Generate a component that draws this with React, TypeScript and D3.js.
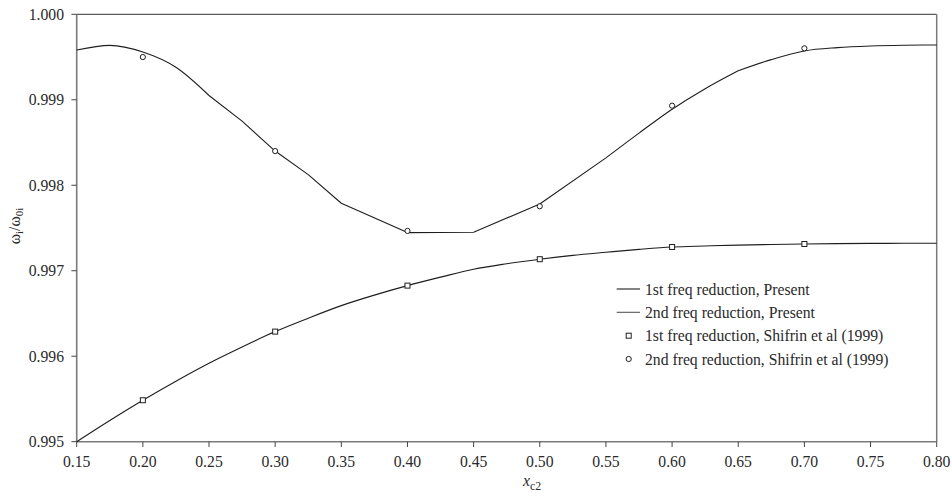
import React from "react";
import * as d3 from "d3";

// Frequency-ratio curves computed by the present model (sampled along x_c2)
const xFirstPresent = [
  0.15, 0.175, 0.2, 0.225, 0.25, 0.275, 0.3, 0.325, 0.35, 0.375, 0.4, 0.425, 0.45,
  0.475, 0.5, 0.525, 0.55, 0.575, 0.6, 0.625, 0.65, 0.675, 0.7, 0.725, 0.75, 0.775, 0.8,
];
const firstPresent = [
  0.995, 0.995248, 0.995485, 0.995708, 0.995918, 0.996108, 0.996288, 0.996445, 0.996592,
  0.996715, 0.996826, 0.996925, 0.997018, 0.997082, 0.997135, 0.99718, 0.997216, 0.99725,
  0.997278, 0.99729, 0.9973, 0.997307, 0.997313, 0.997317, 0.99732, 0.997321, 0.997322,
];
const xSecondPresent = [
  0.15, 0.175, 0.2, 0.225, 0.25, 0.275, 0.3, 0.325, 0.35, 0.4, 0.45, 0.5, 0.55, 0.575,
  0.6, 0.625, 0.65, 0.675, 0.7, 0.725, 0.75, 0.775, 0.8,
];
const secondPresent = [
  0.999582, 0.999637, 0.999559, 0.99938, 0.99905, 0.99875, 0.9984, 0.998125, 0.99779,
  0.997446, 0.99745, 0.997781, 0.99832, 0.99861, 0.998889, 0.99913, 0.99934, 0.99947,
  0.999571, 0.99961, 0.999629, 0.999638, 0.999641,
];
// Pieces of the 2nd-frequency curve: [first x, last x, smoothed?]
const secondPieces: [number, number, boolean][] = [
  [0.15, 0.25, true],
  [0.25, 0.55, false],
  [0.55, 0.65, true],
  [0.65, 0.8, true],
];

// Reference values, Shifrin et al (1999)
const xShifrin = [0.2, 0.3, 0.4, 0.5, 0.6, 0.7];
const firstShifrin = [0.995485, 0.996288, 0.996826, 0.997135, 0.997278, 0.997313];
const secondShifrin = [0.9995, 0.9984, 0.997466, 0.997754, 0.998931, 0.999602];

const xTicks = [0.15, 0.2, 0.25, 0.3, 0.35, 0.4, 0.45, 0.5, 0.55, 0.6, 0.65, 0.7, 0.75, 0.8];
const yTicks = [0.995, 0.996, 0.997, 0.998, 0.999, 1.0];

const legendLabels = [
  "1st freq reduction, Present",
  "2nd freq reduction, Present",
  "1st freq reduction, Shifrin et al (1999)",
  "2nd freq reduction, Shifrin et al (1999)",
];

const W = 952;
const H = 499;
const left = 76.7;
const right = 936.7;
const top = 14.3;
const bottom = 441.7;
const FONT = "'Liberation Serif', 'Times New Roman', serif";
const FS = 15.7;
const INK = "#1e1e1e";
const AXIS = "#7a7a7a";

export default function App() {
  const x = d3.scaleLinear().domain([0.15, 0.8]).range([left, right]);
  const y = d3.scaleLinear().domain([0.995, 1.0]).range([bottom, top]);

  const smooth = d3
    .line<[number, number]>()
    .x((d) => x(d[0]))
    .y((d) => y(d[1]))
    .curve(d3.curveMonotoneX);
  const straight = d3
    .line<[number, number]>()
    .x((d) => x(d[0]))
    .y((d) => y(d[1]));

  const path1 =
    smooth(xFirstPresent.map((v, i) => [v, firstPresent[i]]) as [number, number][]) || "";

  const secondPts = xSecondPresent.map((v, i) => [v, secondPresent[i]] as [number, number]);
  const path2 = secondPieces
    .map(([a, b, isSmooth]) => {
      const pts = secondPts.filter((p) => p[0] >= a - 1e-9 && p[0] <= b + 1e-9);
      return (isSmooth ? smooth(pts) : straight(pts)) || "";
    })
    .join(" ");

  const legX = 616.7;
  const legRows = [289, 312.3, 335.7, 359];

  const square = (cx: number, cy: number, key: string) => (
    <rect key={key} x={cx - 2.5} y={cy - 2.5} width={5} height={5} fill="white" stroke={INK} strokeWidth={1} />
  );
  const circle = (cx: number, cy: number, key: string) => (
    <circle key={key} cx={cx} cy={cy} r={2.6} fill="white" stroke={INK} strokeWidth={1} />
  );

  return (
    <svg
      width={W}
      height={H}
      style={{ position: "absolute", left: 0, top: 0, background: "white" }}
      fontFamily={FONT}
    >
      <rect x={0} y={0} width={W} height={H} fill="white" />

      {/* frame */}
      <line x1={left} x2={right} y1={top} y2={top} stroke="#333" strokeWidth={1} />
      <line x1={right} x2={right} y1={top} y2={bottom} stroke={AXIS} strokeWidth={1.5} />
      <line x1={left} x2={left} y1={top} y2={bottom} stroke={AXIS} strokeWidth={1.6} />
      <line x1={left} x2={right} y1={bottom} y2={bottom} stroke={AXIS} strokeWidth={1.6} />

      {/* y axis */}
      {yTicks.map((t) => (
        <g key={"y" + t}>
          <line x1={left - 5.3} x2={left} y1={y(t)} y2={y(t)} stroke="#444" strokeWidth={1} />
          <text x={64} y={y(t)} dy="0.35em" textAnchor="end" fontSize={FS} fill="#2a2a2a">
            {d3.format(".3f")(t)}
          </text>
        </g>
      ))}

      {/* x axis */}
      {xTicks.map((t) => (
        <g key={"x" + t}>
          <line x1={x(t)} x2={x(t)} y1={bottom} y2={bottom + 5.3} stroke="#444" strokeWidth={1} />
          <text x={x(t)} y={466.5} textAnchor="middle" fontSize={FS} fill="#2a2a2a">
            {d3.format(".2f")(t)}
          </text>
        </g>
      ))}

      {/* axis titles */}
      <text x={523} y={486} fontSize={FS} fill="#2a2a2a">
        <tspan fontStyle="italic">x</tspan>
        <tspan fontSize={FS * 0.75} dy={4}>c2</tspan>
      </text>
      <text
        transform={`translate(20,${226}) rotate(-90)`}
        textAnchor="middle"
        fontSize={FS}
        fill="#2a2a2a"
      >
        <tspan>ω</tspan>
        <tspan fontSize={FS * 0.7} dy={3}>i</tspan>
        <tspan dy={-3}>/ω</tspan>
        <tspan fontSize={FS * 0.7} dy={3}>0i</tspan>
      </text>

      {/* curves */}
      <path d={path1} fill="none" stroke={INK} strokeWidth={1.1} />
      <path d={path2} fill="none" stroke={INK} strokeWidth={1.1} strokeLinejoin="round" />

      {/* reference markers */}
      {xShifrin.map((v, i) => square(x(v), y(firstShifrin[i]), "s" + i))}
      {xShifrin.map((v, i) => circle(x(v), y(secondShifrin[i]), "c" + i))}

      {/* legend */}
      {legendLabels.map((lab, i) => (
        <g key={"l" + i}>
          {i < 2 && (
            <line x1={legX} x2={legX + 23.3} y1={legRows[i]} y2={legRows[i]} stroke={i === 0 ? INK : "#555"} strokeWidth={1.1} />
          )}
          {i === 2 && square(legX + 12, legRows[i], "ls")}
          {i === 3 && circle(legX + 12, legRows[i], "lc")}
          <text x={645} y={legRows[i] + 5.5} fontSize={FS} fill="#2a2a2a">
            {lab}
          </text>
        </g>
      ))}
    </svg>
  );
}
